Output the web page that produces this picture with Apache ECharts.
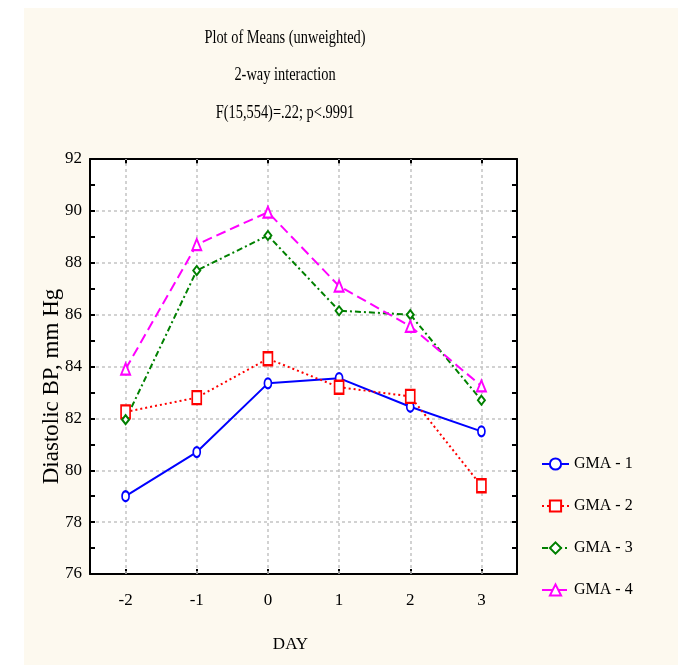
<!DOCTYPE html>
<html>
<head>
<meta charset="utf-8">
<script src="https://cdn.jsdelivr.net/npm/echarts@6/dist/echarts.min.js"></script>
<style>
  html, body { margin: 0; padding: 0; background: #ffffff; }
  #chart { width: 684px; height: 666px; }
</style>
</head>
<body>
<div id="chart"></div>
<script>
// ====== DATA ======
const days = ["-2", "-1", "0", "1", "2", "3"]
const gma1 = [79.0, 80.7, 83.35, 83.55, 82.45, 81.5]
const gma2 = [82.25, 82.8, 84.3, 83.2, 82.85, 79.4]
const gma3 = [81.95, 87.7, 89.05, 86.15, 86.0, 82.7]
const gma4 = [83.9, 88.7, 89.95, 87.1, 85.55, 83.25]
const seriesNames = ["GMA - 1", "GMA - 2", "GMA - 3", "GMA - 4"]
const titleLines = ["Plot of Means (unweighted)", "2-way interaction", "F(15,554)=.22; p<.9991"]

const font = "Liberation Serif"
const gridColor = "#c4c4c4"
const gridDash = { color: gridColor, width: 1.5, type: [3, 3] }

const chart = echarts.init(document.getElementById("chart"))

function makeSeries(name, data, color, dash, symbol, size) {
  return {
    type: "line",
    name,
    data,
    symbol,
    symbolSize: size,
    showAllSymbol: true,
    lineStyle: { color, width: 2, type: dash },
    itemStyle: { color, borderColor: color, borderWidth: 2 },
    emphasis: { disabled: true }
  }
}

// vertical grid lines sit on the category centres, not between them
const dayGrid = {
  silent: true,
  z: 1,
  symbol: "none",
  label: { show: false },
  lineStyle: gridDash,
  data: days.map(d => ({ xAxis: d }))
}

const frameLine = { show: true, lineStyle: { color: "#000", width: 2 } }
const innerTick = { show: true, inside: true, length: 5, lineStyle: { color: "#000", width: 2 } }

const series = [
  makeSeries(seriesNames[0], gma1, "#0000ff", "solid", "emptyCircle", [7, 10]),
  makeSeries(seriesNames[1], gma2, "#ff0000", [2, 3], "emptyRect", [9, 13]),
  makeSeries(seriesNames[2], gma3, "#008000", [6, 3, 2, 3], "emptyDiamond", [7, 9]),
  makeSeries(seriesNames[3], gma4, "#ff00ff", [10, 5], "emptyTriangle", [9, 11])
]
series[0].markLine = dayGrid

chart.setOption({
  backgroundColor: "#ffffff",
  animation: false,

  graphic: [
    {
      type: "rect",
      z: -100,
      shape: { x: 24, y: 8, width: 654, height: 657 },
      style: { fill: "#fdf9ef" }
    },
    ...titleLines.map((t, i) => ({
      type: "text",
      x: 285,
      y: 38 + i * 37.5,
      scaleX: 0.8,
      style: {
        text: t,
        font: `18px "${font}"`,
        fill: "#000",
        align: "center",
        verticalAlign: "middle"
      }
    }))
  ],

  grid: {
    left: 90,
    right: 167,
    top: 159,
    bottom: 92,
    show: true,
    backgroundColor: "#ffffff",
    borderWidth: 0
  },

  legend: {
    orient: "vertical",
    left: 536,
    top: 451,
    itemWidth: 27,
    itemHeight: 14,
    itemGap: 26,
    textStyle: { fontFamily: font, fontSize: 16, color: "#000" },
    data: seriesNames
  },

  xAxis: [
    {
      type: "category",
      data: days,
      boundaryGap: true,
      position: "bottom",
      name: "DAY",
      nameLocation: "middle",
      nameGap: 62,
      nameTextStyle: { fontFamily: font, fontSize: 17, color: "#000", padding: [0, 26, 0, 0] },
      axisLine: frameLine,
      axisTick: { ...innerTick, alignWithLabel: true },
      axisLabel: { fontFamily: font, fontSize: 17, color: "#000", margin: 18 },
      splitLine: { show: false }
    },
    {
      type: "category",
      data: days,
      boundaryGap: true,
      position: "top",
      axisLine: frameLine,
      axisTick: { ...innerTick, alignWithLabel: true },
      axisLabel: { show: false },
      splitLine: { show: false }
    }
  ],

  yAxis: [
    {
      type: "value",
      min: 76,
      max: 92,
      interval: 2,
      position: "left",
      name: "Diastolic BP, mm Hg",
      nameLocation: "middle",
      nameGap: 27,
      nameMoveOverlap: false,
      nameTextStyle: { fontFamily: font, fontSize: 23, color: "#000", padding: [0, 40, 0, 0] },
      axisLine: frameLine,
      axisTick: innerTick,
      minorTick: { show: true, splitNumber: 2, length: 5, lineStyle: { color: "#000", width: 2 } },
      axisLabel: { fontFamily: font, fontSize: 17, color: "#000", margin: 8 },
      splitLine: { show: true, lineStyle: gridDash }
    },
    {
      type: "value",
      min: 76,
      max: 92,
      interval: 2,
      position: "right",
      axisLine: frameLine,
      axisTick: innerTick,
      minorTick: { show: true, splitNumber: 2, length: 5, lineStyle: { color: "#000", width: 2 } },
      axisLabel: { show: false },
      splitLine: { show: false }
    }
  ],

  series
})
</script>
</body>
</html>
